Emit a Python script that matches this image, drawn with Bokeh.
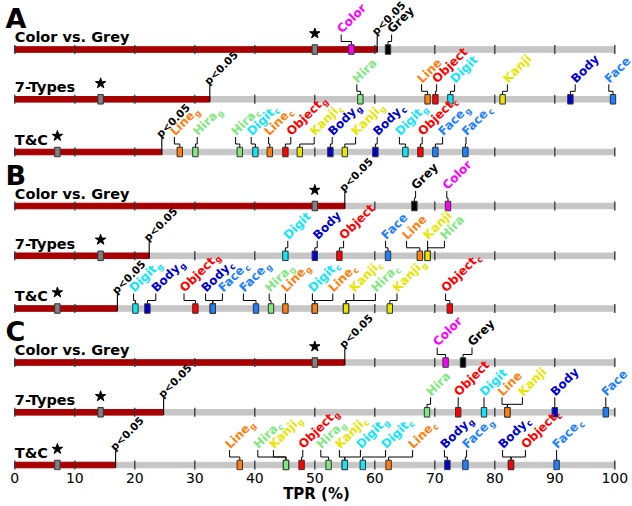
import math
from bokeh.plotting import figure
from bokeh.models import Range1d, FixedTicker
from bokeh.core.properties import value
from bokeh.embed import file_html
from bokeh.resources import INLINE

# ---------------- data ----------------
panels = ["A", "B", "C"]
row_titles = ["Color vs. Grey", "7-Types", "T&C"]
chance = [50.0, 14.3, 7.1]                      # chance level per row
p_thresh_A = [60.4, 32.5, 24.5]                 # p<0.05 threshold per row
p_thresh_B = [55.0, 22.4, 17.1]
p_thresh_C = [55.0, 24.8, 16.8]
tick_values = [0, 10, 20, 30, 40, 50, 60, 70, 80, 90, 100]

A_cg_names = ["Color", "Grey"]
A_cg_vals = [56.1, 62.2]
B_cg_names = ["Grey", "Color"]
B_cg_vals = [66.6, 72.2]
C_cg_names = ["Color", "Grey"]
C_cg_vals = [71.8, 74.7]

A_7_names = ["Hira", "Line", "Object", "Digit", "Kanji", "Body", "Face"]
A_7_vals = [57.6, 68.8, 70.1, 72.6, 81.3, 92.6, 99.7]
B_7_names = ["Digit", "Body", "Object", "Face", "Line", "Hira", "Kanji"]
B_7_vals = [45.1, 50.0, 54.1, 62.2, 67.5, 68.8, 68.8]
C_7_names = ["Hira", "Object", "Digit", "Kanji", "Line", "Body", "Face"]
C_7_vals = [68.7, 73.9, 78.2, 82.1, 82.1, 90.0, 98.5]

A_tc_names = ["Line", "Hira", "Hira", "Digit", "Line", "Object", "Kanji", "Body", "Kanji", "Body", "Digit", "Object", "Face", "Face"]
A_tc_subs = ["g", "g", "c", "c", "c", "g", "c", "g", "g", "c", "g", "c", "g", "c"]
A_tc_vals = [27.5, 30.1, 37.5, 40.1, 42.5, 45.1, 47.5, 52.6, 55.0, 60.1, 65.1, 67.6, 70.1, 75.1]
B_tc_names = ["Digit", "Body", "Object", "Body", "Face", "Face", "Hira", "Line", "Digit", "Line", "Hira", "Kanji", "Kanji", "Object"]
B_tc_subs = ["g", "g", "g", "c", "c", "g", "g", "g", "c", "c", "c", "c", "g", "c"]
B_tc_vals = [20.1, 22.1, 30.1, 33.0, 33.0, 40.2, 42.7, 45.1, 50.0, 50.0, 55.2, 55.2, 62.5, 72.5]
C_tc_names = ["Line", "Kanji", "Hira", "Object", "Hira", "Kanji", "Digit", "Digit", "Line", "Body", "Face", "Body", "Object", "Face"]
C_tc_subs = ["g", "g", "c", "g", "g", "c", "g", "c", "c", "g", "g", "c", "c", "c"]
C_tc_vals = [37.5, 45.2, 45.2, 47.8, 52.3, 55.0, 55.0, 58.0, 62.3, 72.1, 75.1, 82.7, 82.7, 90.3]

# ---------------- layout (label anchor positions, hand placed) ----------------
lab_A_cg = [54.4, 62.8]
lab_B_cg = [66.8, 72.0]
lab_C_cg = [70.4, 76.2]
lab_A_7 = [57.0, 67.8, 70.3, 73.3, 82.1, 93.4, 99.0]
lab_B_7 = [45.5, 50.4, 54.8, 61.8, 65.3, 71.6, 68.8]
lab_C_7 = [69.3, 73.9, 78.2, 84.6, 81.2, 90.0, 98.5]
lab_A_tc = [26.6, 30.4, 36.8, 39.4, 42.3, 46.0, 49.9, 52.9, 56.8, 60.4, 64.1, 67.9, 71.3, 75.2]
lab_B_tc = [19.8, 23.5, 28.2, 31.8, 34.6, 38.1, 42.4, 45.1, 49.6, 53.0, 60.1, 56.5, 63.7, 71.8]
lab_C_tc = [35.8, 43.1, 40.5, 48.0, 51.0, 54.1, 57.6, 61.8, 66.3, 71.6, 75.3, 81.3, 85.1, 90.3]

cat_color = {"Color": "#ff00ff", "Grey": "#000000", "Hira": "#80e880", "Line": "#ff8010",
             "Object": "#ff0000", "Digit": "#10e6f6", "Kanji": "#e6e600", "Body": "#0000d0",
             "Face": "#1e80ff"}

panel_base = [49.0, 205.5, 362.0]
row_off = [0.0, 49.8, 102.5]

PX = 6.0  # pixels per TPR unit
W, H, BB = 632, 506, 36
frame_h = H - BB
x0 = -14.3 / PX
x1 = x0 + W / PX

# DejaVu Sans Bold advance widths (em)
CW = {'A': .775, 'B': .763, 'C': .734, 'D': .830, 'F': .683, 'G': .821, 'H': .837, 'K': .775,
      'L': .637, 'O': .850, 'T': .682, 'a': .675, 'b': .716, 'c': .593, 'd': .716, 'e': .678,
      'g': .716, 'h': .712, 'i': .343, 'j': .343, 'k': .665, 'l': .343, 'n': .712, 'o': .687,
      'p': .716, 'r': .493, 's': .595, 't': .478, 'u': .712, 'v': .652, 'y': .652}


def twidth(s, fs):
    return sum(CW.get(c, 0.65) for c in s) * fs


p = figure(width=W, height=H, x_range=Range1d(x0, x1), y_range=Range1d(frame_h, 0),
           output_backend="svg", toolbar_location=None, y_axis_location=None,
           min_border_left=0, min_border_right=0, min_border_top=0, min_border_bottom=BB,
           outline_line_color=None)
p.xgrid.visible = False
p.ygrid.visible = False

FONT = value("DejaVu Sans")
ANG = math.pi / 4
c45 = math.cos(ANG)
MID = 0.35  # em offset of text middle above baseline

rows_y = []
rows_th = []
rows_ch = []
for pi_, base in enumerate(panel_base):
    th = [p_thresh_A, p_thresh_B, p_thresh_C][pi_]
    for ri, off in enumerate(row_off):
        rows_y.append(base + off)
        rows_th.append(th[ri])
        rows_ch.append(chance[ri])

# background bars
p.hbar(y=rows_y, left=0, right=100, height=5.5, color="#c6c6c6")
p.hbar(y=rows_y, left=0, right=rows_th, height=5.5, color="#a80000")

# ticks on the bars
tx, ty0, ty1 = [], [], []
for yc in rows_y:
    for t in tick_values:
        tx.append(t); ty0.append(yc - 4.5); ty1.append(yc + 4.5)
p.segment(x0=tx, y0=ty0, x1=tx, y1=ty1, line_color="#333333", line_width=1.3)


def rot_center(ax_, ay_, fs):
    """centre of a 45deg-rotated text whose baseline starts at (ax_, ay_)"""
    m = MID * fs * c45
    return ax_ - m / PX, ay_ - m


# p<0.05 markers
PFS = 10.5
p.segment(x0=rows_th, y0=[y + 2.5 for y in rows_y], x1=rows_th, y1=[y - 14 for y in rows_y],
          line_color="#000000", line_width=1.1)
pc = [rot_center(t - 0.2, y - 14, PFS) for t, y in zip(rows_th, rows_y)]
p.text(x=[c[0] for c in pc], y=[c[1] for c in pc], text=["p<0.05"] * len(rows_y), angle=ANG,
       text_font=FONT, text_font_style="bold", text_font_size=f"{PFS}px", text_color="#000000",
       text_baseline="middle", text_align="left")

# chance markers
p.rect(x=rows_ch, y=rows_y, width=0.9, height=9.5, fill_color="#808080", line_color="#333333", line_width=1)
p.scatter(x=rows_ch, y=[y - 16 for y in rows_y], marker="star", size=11, fill_color="#000000",
          line_color="#000000")

# row titles
p.text(x=[0] * 9, y=[y - 12.3 for y in rows_y], text=row_titles * 3, text_font=FONT,
       text_font_style="bold", text_font_size="14.5px", text_color="#000000",
       text_baseline="middle", text_align="left")

# panel letters
p.text(x=[-1.55] * 3, y=[b - 31 for b in panel_base], text=panels, text_font=FONT,
       text_font_style="bold", text_font_size="27px", text_color="#000000",
       text_baseline="middle", text_align="left")

# items
row_items = [
    (A_cg_names, None, A_cg_vals, lab_A_cg), (A_7_names, None, A_7_vals, lab_A_7), (A_tc_names, A_tc_subs, A_tc_vals, lab_A_tc),
    (B_cg_names, None, B_cg_vals, lab_B_cg), (B_7_names, None, B_7_vals, lab_B_7), (B_tc_names, B_tc_subs, B_tc_vals, lab_B_tc),
    (C_cg_names, None, C_cg_vals, lab_C_cg), (C_7_names, None, C_7_vals, lab_C_7), (C_tc_names, C_tc_subs, C_tc_vals, lab_C_tc),
]

mx, my, mc = [], [], []
lxs, lys = [], []
tx_, ty_, tt_, tc_ = [], [], [], []
sx_, sy_, st_, sc_ = [], [], [], []
FS, SFS = 12.0, 8.5
for (names, subs, vals, labx), yc in zip(row_items, rows_y):
    for k, (nm, v, lx) in enumerate(zip(names, vals, labx)):
        col = cat_color[nm]
        mx.append(v); my.append(yc); mc.append(col)
        top = yc - 4.75
        ay = yc - 15
        if abs(lx - v) < 0.05:
            lxs.append([v, v]); lys.append([top, ay])
        else:
            knee = yc - 8
            lxs.append([v, v, lx, lx]); lys.append([top, knee, knee, ay])
        bx, by = lx + 0.15, ay - 0.5
        cx, cy = rot_center(bx, by, FS)
        tx_.append(cx); ty_.append(cy); tt_.append(nm); tc_.append(col)
        if subs is not None:
            w = twidth(nm, FS) + 0.5
            d = 2.5
            sbx = bx + (w * c45 + d * c45) / PX
            sby = by - w * c45 + d * c45
            scx, scy = rot_center(sbx, sby, SFS)
            sx_.append(scx); sy_.append(scy); st_.append(subs[k]); sc_.append(col)

p.multi_line(xs=lxs, ys=lys, line_color="#000000", line_width=1)
p.rect(x=mx, y=my, width=0.9, height=9.5, fill_color=mc, line_color="#333333", line_width=1)
p.text(x=tx_, y=ty_, text=tt_, angle=ANG, text_font=FONT, text_font_style="bold",
       text_font_size="12px", text_color=tc_, text_baseline="middle", text_align="left")
p.text(x=sx_, y=sy_, text=st_, angle=ANG, text_font=FONT, text_font_style="bold",
       text_font_size="8.5px", text_color=sc_, text_baseline="middle", text_align="left")

# x axis
ax = p.xaxis[0]
ax.ticker = FixedTicker(ticks=tick_values)
ax.axis_line_color = None
ax.major_tick_line_color = None
ax.minor_tick_line_color = None
ax.major_tick_out = 0
ax.major_tick_in = 0
ax.major_label_standoff = 2
ax.major_label_text_font = "DejaVu Sans"
ax.major_label_text_font_size = "14px"
ax.major_label_text_color = "#000000"
ax.axis_label = "TPR (%)"
ax.axis_label_text_font = "DejaVu Sans"
ax.axis_label_text_font_style = "bold"
ax.axis_label_text_font_size = "15px"
ax.axis_label_text_color = "#000000"
ax.axis_label_standoff = -1

open("out.html", "w").write(file_html(p, INLINE))
